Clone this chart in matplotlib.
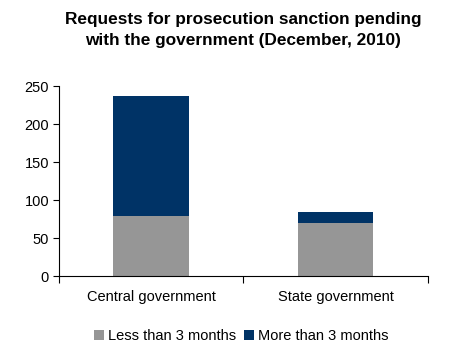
import numpy as np
import matplotlib.pyplot as plt

plt.rcParams['font.family'] = ['Liberation Sans', 'DejaVu Sans']

categories = ["Central government", "State government"]
less_3m = [79, 70]
more_3m = [158, 15]
series_names = ["Less than 3 months", "More than 3 months"]

fig = plt.figure(figsize=(4.49, 3.57), dpi=100)
ax = fig.add_axes([0.131, 0.226, 0.822, 0.533])

x = np.arange(len(categories))
ax.bar(x, less_3m, width=0.41, color="#969696", label=series_names[0])
ax.bar(x, more_3m, width=0.41, bottom=less_3m, color="#003366", label=series_names[1])

ax.set_xlim(-0.5, 1.5)
ax.set_ylim(0, 250)
ax.set_yticks([0, 50, 100, 150, 200, 250])
ax.set_xticks([-0.5, 0.5, 1.5], minor=False)
ax.set_xticklabels([])
ax.set_xticks(x, minor=True)
ax.set_xticklabels(categories, minor=True)
ax.tick_params(axis='x', which='minor', length=0, pad=10, labelsize=10.5)
ax.tick_params(axis='x', which='major', length=5, direction='out')
ax.tick_params(axis='y', length=4, direction='out', labelsize=10.5, pad=3)
for s in ['top', 'right']:
    ax.spines[s].set_visible(False)

fig.suptitle("Requests for prosecution sanction pending\nwith the government (December, 2010)",
             fontsize=12.4, fontweight='bold', y=0.965, x=0.542, linespacing=1.45)
fig.legend(loc='center', bbox_to_anchor=(0.537, 0.058), ncol=2, frameon=False,
           fontsize=10.5, handlelength=0.7, handleheight=0.7, handletextpad=0.3,
           columnspacing=0.5)

fig.savefig("out.png", dpi=100)
